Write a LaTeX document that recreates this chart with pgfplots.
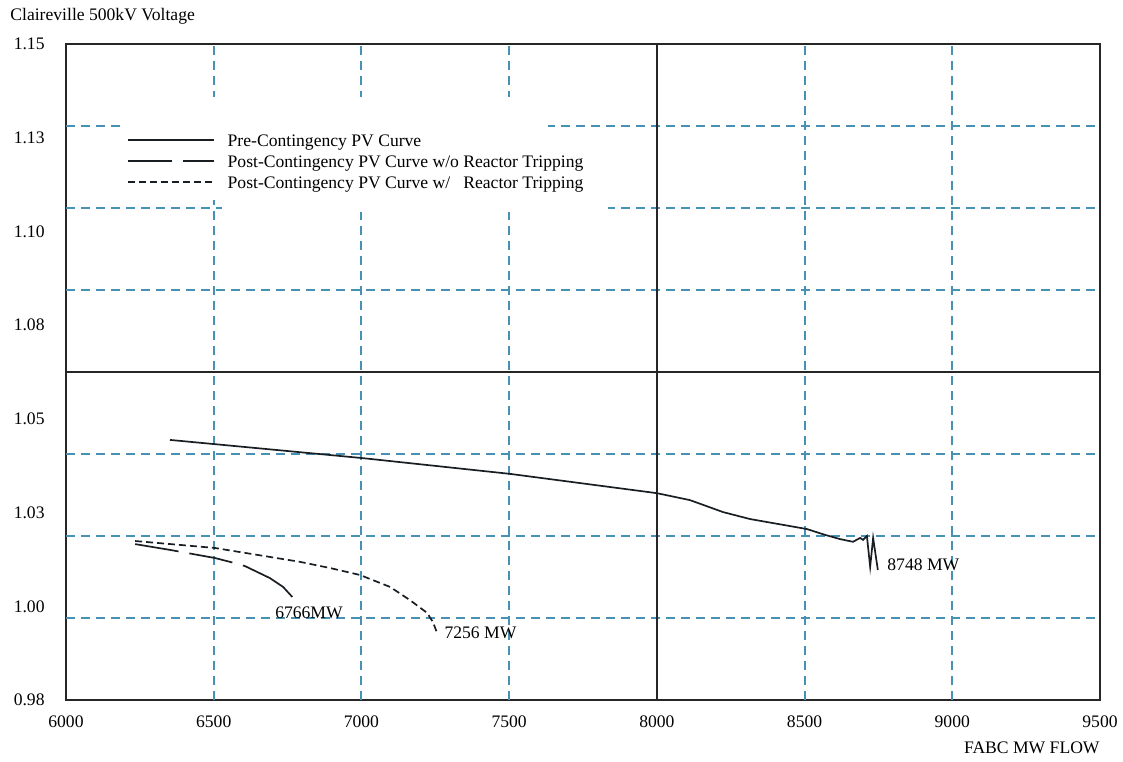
\documentclass[border=0pt]{standalone}
\usepackage{fontspec}
\setmainfont{Liberation Serif}
\usepackage{pgfplots}
\pgfplotsset{compat=1.18}
\definecolor{gridblue}{RGB}{70,145,180}
\definecolor{curvec}{RGB}{25,30,35}
\begin{document}
\fontsize{8.8}{10.5}\selectfont
\begin{tikzpicture}
\begin{axis}[
  scale only axis, width=517pt, height=328pt,
  xmin=6000, xmax=9500, ymin=0.98, ymax=1.15,
  xtick={6000,6500,7000,7500,8000,8500,9000,9500},
  xticklabels={6000,6500,7000,7500,8000,8500,9000,9500},
  ytick={0.98,1.0042857,1.0285714,1.0528571,1.0771429,1.1014286,1.1257143,1.15},
  yticklabels={0.98,1.00,1.03,1.05,1.08,1.10,1.13,1.15},
  major tick length=0pt,
  axis line style={line width=0.9pt, color=black!85},
  xticklabel style={anchor=center, inner sep=0pt, yshift=-11pt},
  yticklabel style={anchor=east, inner sep=0pt, xshift=-10.5pt},
  legend style={at={(rel axis cs:0.059,0.8643)}, anchor=north west, draw=none, fill=none,
    inner sep=0pt, outer sep=0pt, row sep=1.5pt, column sep=6.5pt,
    nodes={inner sep=0pt, text height=6.5pt, text depth=2.5pt},
    font=\fontsize{8.8}{10.5}\selectfont},
  legend cell align=left,
  legend image code/.code={\draw[#1] (0pt,1pt) -- (43pt,1pt);},
]
% grid
\draw[gridblue, line width=0.95pt, dash pattern=on 4.5pt off 3pt]
  (axis cs:6500,0.98) -- (axis cs:6500,1.15)
  (axis cs:7000,0.98) -- (axis cs:7000,1.15)
  (axis cs:7500,0.98) -- (axis cs:7500,1.15)
  (axis cs:8500,0.98) -- (axis cs:8500,1.15)
  (axis cs:9000,0.98) -- (axis cs:9000,1.15)
  (axis cs:6000,1.00125) -- (axis cs:9500,1.00125)
  (axis cs:6000,1.0225) -- (axis cs:9500,1.0225)
  (axis cs:6000,1.04375) -- (axis cs:9500,1.04375)
  (axis cs:6000,1.08625) -- (axis cs:9500,1.08625)
  (axis cs:6000,1.1075) -- (axis cs:9500,1.1075)
  (axis cs:6000,1.12875) -- (axis cs:9500,1.12875);
\fill[white] (axis cs:6182.8,1.13626) rectangle (axis cs:7631.6,1.10957);
\fill[white] (axis cs:6528.1,1.12771) rectangle (axis cs:7834.7,1.10646);
\draw[black!85, line width=0.75pt]
  (axis cs:8000,0.98) -- (axis cs:8000,1.15)
  (axis cs:6000,1.065) -- (axis cs:9500,1.065);

\addplot[curvec, line width=0.85pt, solid] coordinates {
 (6352,1.0474) (6504,1.0463) (7002,1.0427) (7503,1.0386) (8000,1.0336)
 (8112,1.0318) (8224,1.0287) (8315,1.0269) (8508,1.0243) (8569,1.0228)
 (8620,1.0217) (8664,1.0210) (8688,1.0220) (8698,1.0215) (8711,1.0225)
 (8722,1.0145) (8732,1.0220) (8748,1.0137)};
\addlegendentry{Pre-Contingency PV Curve}
\addplot[curvec, line width=0.85pt, dash pattern=on 22pt off 5.5pt on 22pt off 5.5pt on 40pt off 5pt] coordinates {
 (6234,1.0204) (6352,1.0189) (6504,1.0168) (6555,1.0158) (6606,1.0147)
 (6690,1.0116) (6735,1.0093) (6766,1.0067)};
\addlegendentry{Post-Contingency PV Curve w/o Reactor Tripping}
\addplot[curvec, line width=0.85pt, dash pattern=on 3.5pt off 2pt] coordinates {
 (6234,1.0212) (6504,1.0194) (6792,1.0158) (6894,1.0142) (6995,1.0124)
 (7097,1.0093) (7164,1.0059) (7222,1.0026) (7242,1.0002) (7256,0.9974)};
\addlegendentry{Post-Contingency PV Curve w/\phantom{o} Reactor Tripping}

\node[anchor=west, inner sep=0pt] at (axis cs:6707,1.0026) {6766MW};
\node[anchor=west, inner sep=0pt] at (axis cs:7280,0.9974) {7256 MW};
\node[anchor=west, inner sep=0pt] at (axis cs:8779,1.0150) {8748 MW};

\coordinate (SW) at (rel axis cs:0,0);
\coordinate (NE) at (rel axis cs:1,1);
\coordinate (NW) at (rel axis cs:0,1);
\coordinate (SE) at (rel axis cs:1,0);
\end{axis}
\node[anchor=west, inner sep=0pt] at ([xshift=-28pt,yshift=14pt]NW) {Claireville 500kV Voltage};
\node[anchor=east, inner sep=0pt] at ([yshift=-24pt]SE) {FABC MW FLOW};
\pgfresetboundingbox
\path[use as bounding box] ([xshift=-33pt,yshift=-30.5pt]SW) rectangle ([xshift=11.5pt,yshift=22pt]NE);
\end{tikzpicture}
\end{document}
